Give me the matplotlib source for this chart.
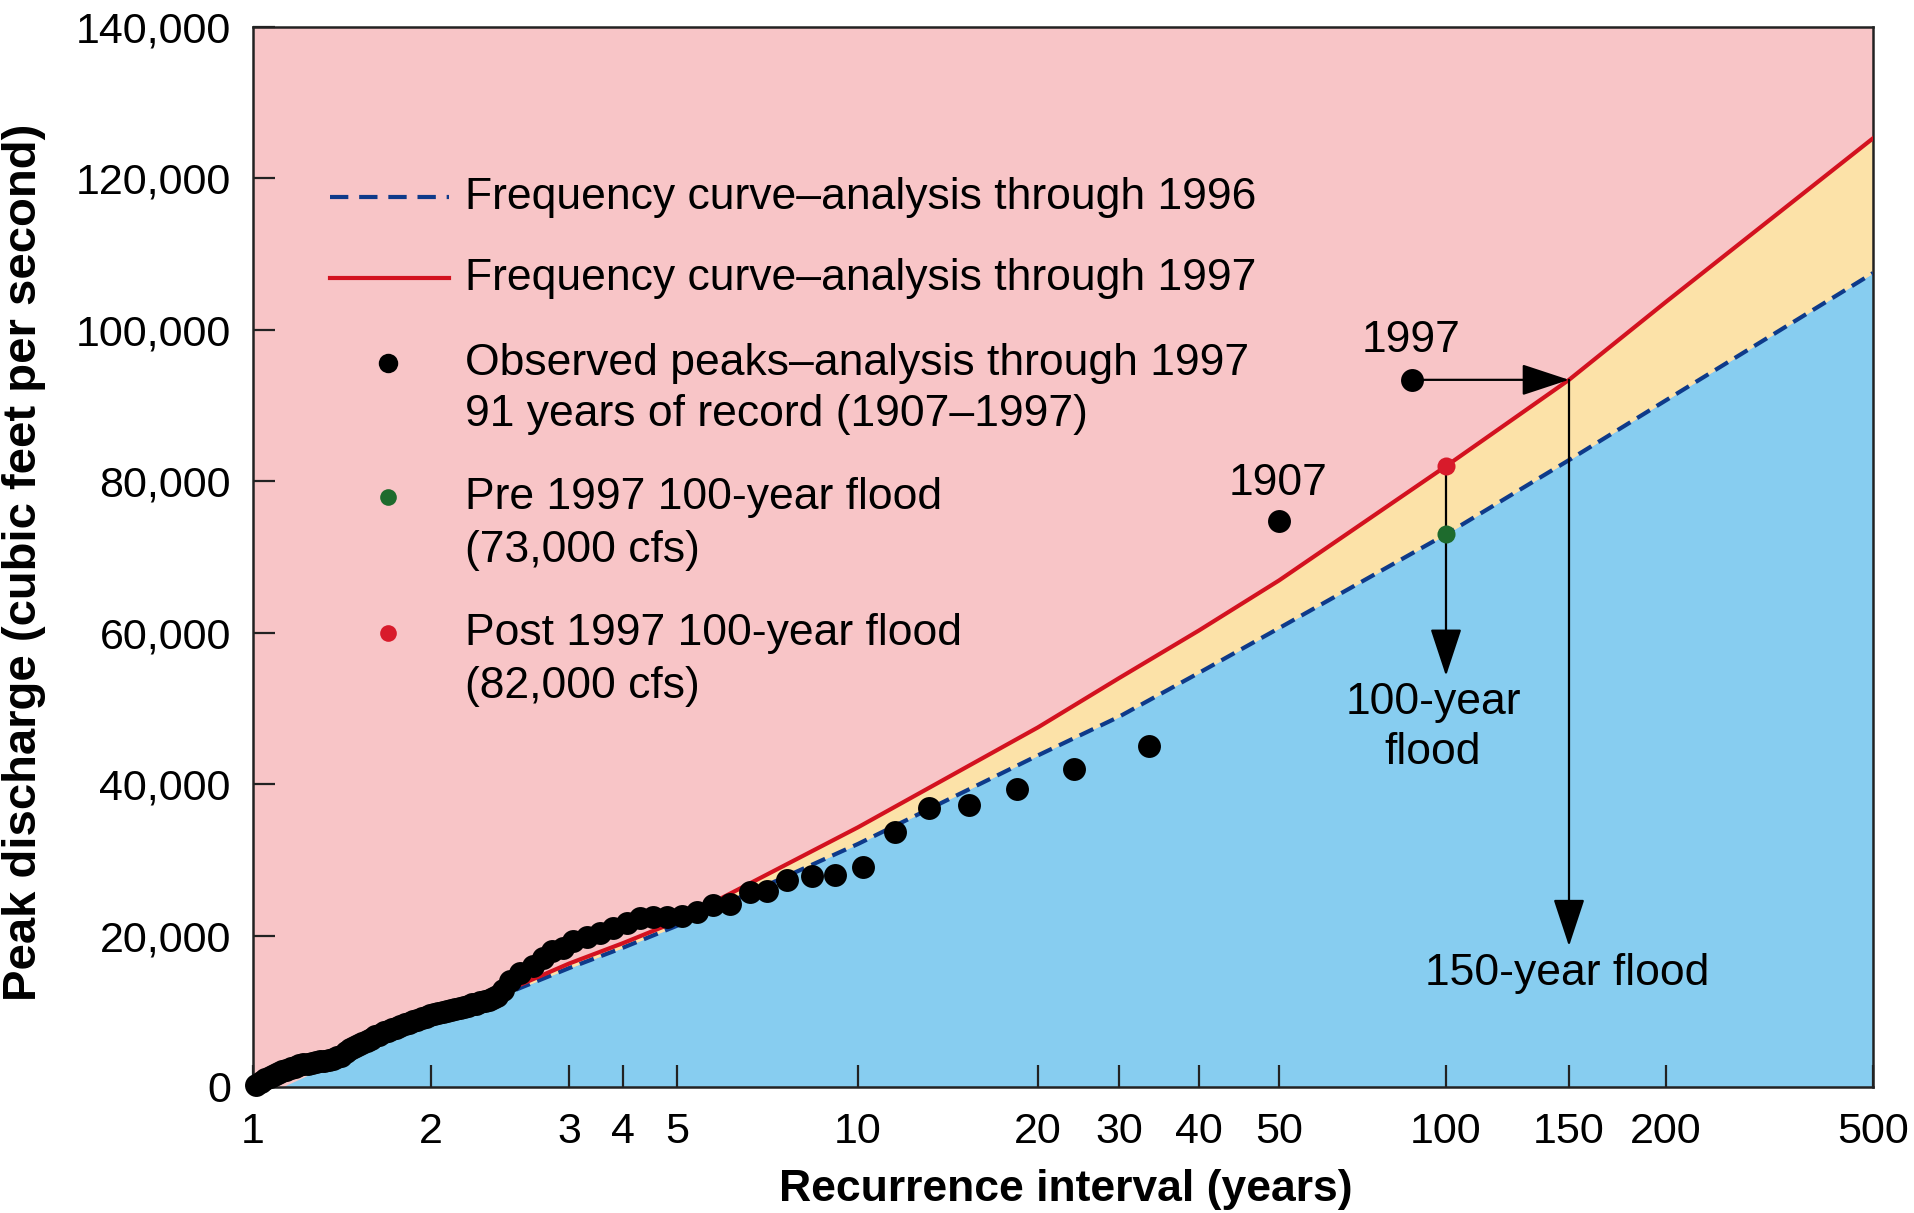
import numpy as np
import matplotlib
matplotlib.use("Agg")
import matplotlib.pyplot as plt
from matplotlib.ticker import FixedLocator, NullLocator, FixedFormatter
from matplotlib.lines import Line2D

# ---------------- data ----------------
tick_years = [1, 2, 3, 4, 5, 10, 20, 30, 40, 50, 100, 150, 200, 500]
tick_labels = ["1", "2", "3", "4", "5", "10", "20", "30", "40", "50",
               "100", "150", "200", "500"]
y_ticks = [0, 20000, 40000, 60000, 80000, 100000, 120000, 140000]
y_tick_labels = ["0", "20,000", "40,000", "60,000", "80,000", "100,000",
                 "120,000", "140,000"]

curve_T = [1.12, 1.5, 2, 3, 4, 5, 10, 20, 30, 40, 50, 100, 150, 200, 500]
curve_1996 = [0, 4600, 8300, 15700, 18400, 21300, 32100, 43800, 48900,
              54700, 60600, 73000, 82800, 90700, 107500]
curve_1997 = [0, 4700, 8400, 16300, 19000, 21900, 34300, 47500, 54000,
              60300, 66900, 82000, 93400, 103700, 125300]

peaks_T = [1.012, 1.032, 1.048, 1.068, 1.085, 1.102, 1.120, 1.137, 1.160, 1.178,
           1.196, 1.215, 1.239, 1.258, 1.278, 1.298, 1.319, 1.345, 1.366, 1.387,
           1.409, 1.437, 1.459, 1.482, 1.505, 1.529, 1.559, 1.584, 1.609, 1.634,
           1.666, 1.692, 1.719, 1.746, 1.773, 1.808, 1.836, 1.865, 1.894, 1.932,
           1.962, 1.993, 2.017, 2.041, 2.071, 2.096, 2.121, 2.146, 2.178, 2.203,
           2.229, 2.256, 2.282, 2.309, 2.343, 2.371, 2.399, 2.427,
           2.471, 2.522, 2.597, 2.698, 2.779, 2.853, 2.947, 3.065, 3.303, 3.538,
           3.793, 4.067, 4.292, 4.528, 4.797, 5.098, 5.399, 5.739, 6.125, 6.614,
           7.060, 7.619, 8.384, 9.157, 10.19, 11.53, 13.14, 15.34, 18.45, 23.94,
           33.42, 50.0, 87.0]
peaks_Q = [300, 700, 1000, 1300, 1600, 1900, 2100, 2300, 2500, 2700,
           2900, 3000, 3100, 3200, 3300, 3400, 3500, 3600, 3700, 3900,
           4100, 4600, 5000, 5300, 5600, 5800, 6100, 6400, 6700, 6900,
           7200, 7400, 7600, 7800, 8000, 8300, 8500, 8700, 8900, 9100,
           9300, 9500, 9700, 9800, 9900, 10100, 10200, 10300, 10500, 10600,
           10700, 10900, 11000, 11200, 11300, 11500, 11700, 12000,
           12800, 14000, 15000, 16000, 17000, 17900, 18400, 19300, 19800, 20300,
           21000, 21700, 22300, 22400, 22500, 22600, 23100, 24100, 24200, 25800,
           25900, 27300, 27900, 28000, 29100, 33700, 36900, 37300, 39400, 42000,
           45000, 74800, 93400]

flood100_T = 100
flood100_pre = 73000
flood100_post = 82000
flood150_T = 150
arrow100_end = 54300
arrow150_end = 18600

# ---------------- axis scale (hand-drawn recurrence axis) ----------------
scale_pos = [0, 178, 316, 370, 424, 605, 785, 866, 946, 1026, 1193, 1316, 1413, 1620]
_logt = np.log10(tick_years)


def fwd(t):
    t = np.asarray(t, dtype=float)
    t = np.where(t > 0, t, 1e-9)
    return np.interp(np.log10(t), _logt, scale_pos)


def inv(p):
    p = np.asarray(p, dtype=float)
    return 10 ** np.interp(p, scale_pos, _logt)


# ---------------- styles ----------------
PINK = "#F8C5C7"
YELLOW = "#FCE2A8"
BLUE_FILL = "#87CDF0"
RED = "#D3121F"
NAVY = "#0E3A8A"
GREEN = "#1E6B2D"
RED_DOT = "#D81B2B"
DARK = "#222222"
FONT = "Liberation Sans"

plt.rcParams["font.family"] = [FONT, "DejaVu Sans"]

fig = plt.figure(figsize=(19.15, 12.13), dpi=100)
ax = fig.add_axes([253 / 1915, 1 - 1087 / 1213, 1620 / 1915, 1060 / 1213])
ax.set_facecolor(PINK)

ax.set_xscale("function", functions=(fwd, inv))
ax.set_xlim(1, 500)
ax.set_ylim(0, 140000)

ax.fill_between(curve_T, 0, curve_1996, color=BLUE_FILL, lw=0, zorder=1)
ax.fill_between(curve_T, curve_1996, curve_1997, color=YELLOW, lw=0, zorder=1)

LW = 3.0
DASH = (3.6, 1.9)
ax.plot(curve_T[2:], curve_1996[2:], color=NAVY, lw=LW, dashes=DASH, zorder=3)
ax.plot(curve_T[2:], curve_1997[2:], color=RED, lw=LW, zorder=3)

# arrows
arrow_kw = dict(arrowstyle="-|>,head_length=1.0,head_width=0.33",
                mutation_scale=30, lw=1.6, color="black",
                shrinkA=0, shrinkB=0)
ax.annotate("", xy=(flood150_T, peaks_Q[-1]), xytext=(peaks_T[-1], peaks_Q[-1]),
            arrowprops=arrow_kw, zorder=4)
ax.annotate("", xy=(flood150_T, arrow150_end), xytext=(flood150_T, peaks_Q[-1]),
            arrowprops=arrow_kw, zorder=4)
ax.annotate("", xy=(flood100_T, arrow100_end), xytext=(flood100_T, flood100_post),
            arrowprops=arrow_kw, zorder=4)

ax.plot(peaks_T, peaks_Q, "o", color="black", ms=16.5, mew=0, zorder=5,
        clip_on=False)
ax.plot([flood100_T], [flood100_post], "o", color=RED_DOT, ms=13, mew=0, zorder=6)
ax.plot([flood100_T], [flood100_pre], "o", color=GREEN, ms=13, mew=0, zorder=6)

TS = 32
ax.annotate("1997", xy=(peaks_T[-1], peaks_Q[-1]), xytext=(-1, 28),
            textcoords="offset points", ha="center", va="center", fontsize=TS)
ax.annotate("1907", xy=(peaks_T[-2], peaks_Q[-2]), xytext=(-1, 27),
            textcoords="offset points", ha="center", va="center", fontsize=TS)
ax.text(0.7284, 0.3387, "100-year\nflood", transform=ax.transAxes, ha="center",
        va="center", fontsize=TS, linespacing=1.28)
ax.text(0.8111, 0.1075, "150-year flood", transform=ax.transAxes, ha="center",
        va="center", fontsize=TS)

# legend (drawn manually)
tr = ax.transAxes
ax.add_line(Line2D([0.0475, 0.121], [0.8396, 0.8396], transform=tr, color=NAVY,
                   lw=LW, dashes=(4.4, 2.6)))
ax.add_line(Line2D([0.0475, 0.121], [0.7632, 0.7632], transform=tr, color=RED,
                   lw=LW))
ax.plot([0.0836], [0.683], "o", transform=tr, color="black", ms=14, mew=0)
ax.plot([0.0836], [0.5566], "o", transform=tr, color=GREEN, ms=12, mew=0)
ax.plot([0.0836], [0.4283], "o", transform=tr, color=RED_DOT, ms=12, mew=0)
LX = 0.1309
for yy, s in [(0.8396, "Frequency curve\u2013analysis through 1996"),
              (0.7632, "Frequency curve\u2013analysis through 1997"),
              (0.683, "Observed peaks\u2013analysis through 1997"),
              (0.634, "91 years of record (1907\u20131997)"),
              (0.5566, "Pre 1997 100-year flood"),
              (0.5066, "(73,000 cfs)"),
              (0.4283, "Post 1997 100-year flood"),
              (0.378, "(82,000 cfs)")]:
    ax.text(LX, yy, s, transform=tr, ha="left", va="center", fontsize=TS)

# ticks
ax.xaxis.set_major_locator(FixedLocator(tick_years))
ax.xaxis.set_major_formatter(FixedFormatter(tick_labels))
ax.xaxis.set_minor_locator(NullLocator())
ax.yaxis.set_major_locator(FixedLocator(y_ticks))
ax.yaxis.set_major_formatter(FixedFormatter(y_tick_labels))
ax.yaxis.set_minor_locator(NullLocator())
ax.tick_params(axis="both", direction="in", length=16, width=1.6, color=DARK,
               labelsize=31, labelcolor="black")
ax.tick_params(axis="x", pad=18)
ax.tick_params(axis="y", pad=16)
for sp in ax.spines.values():
    sp.set_color(DARK)
    sp.set_linewidth(1.8)

fig.text(24 / 1915, 1 - 562 / 1213, "Peak discharge (cubic feet per second)",
         rotation=90, ha="center", va="center", fontsize=34, fontweight="bold")
fig.text(1066 / 1915, 12 / 1213, "Recurrence interval (years)", ha="center",
         va="baseline", fontsize=32, fontweight="bold")

fig.savefig("out.png", dpi=100)
